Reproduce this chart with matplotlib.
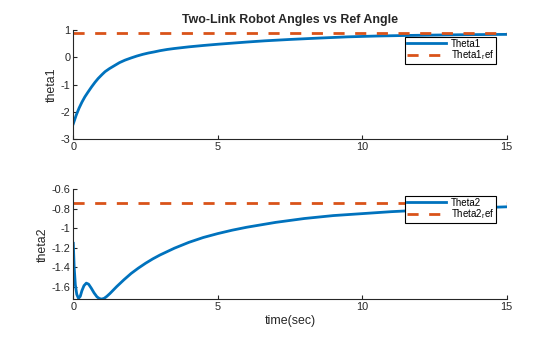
import numpy as np
import matplotlib
matplotlib.use("Agg")
import matplotlib.pyplot as plt

plt.rcParams['font.family'] = ['Liberation Sans', 'DejaVu Sans']
plt.rcParams['axes.unicode_minus'] = False

# joint 1 response (sec, rad)
t1 = [0, 0.1, 0.2, 0.3, 0.4, 0.5, 0.63, 0.75, 0.86, 1.0, 1.1, 1.25, 1.44,
      1.6, 1.79, 2.0, 2.2, 2.4, 2.6, 2.8, 3.0, 3.25, 3.5, 3.75, 4.0, 4.5,
      5.0, 5.5, 6.0, 6.63, 7.5, 8.5, 9.5, 10.5, 11.5, 12.5, 13.5, 15]
theta1 = [-2.43, -2.12, -1.86, -1.64, -1.45, -1.29, -1.09, -0.92, -0.78,
          -0.63, -0.53, -0.42, -0.30, -0.20, -0.11, -0.03, 0.04, 0.10, 0.15,
          0.19, 0.235, 0.28, 0.315, 0.345, 0.375, 0.425, 0.47, 0.51, 0.55,
          0.595, 0.645, 0.695, 0.74, 0.77, 0.79, 0.805, 0.818, 0.83]
theta1_ref = 0.87

# joint 2 response (sec, rad)
t2 = [0, 0.03, 0.07, 0.12, 0.18, 0.24, 0.30, 0.37, 0.45, 0.53, 0.62, 0.72,
      0.82, 0.90, 0.98, 1.07, 1.16, 1.27, 1.5, 1.75, 2.0, 2.25, 2.5, 2.75,
      3.0, 3.5, 4.0, 4.5, 5.0, 5.5, 6.0, 7.0, 8.0, 9.0, 10.0, 11.0, 12.0,
      13.0, 14.0, 15.0]
theta2 = [-1.155, -1.40, -1.58, -1.68, -1.72, -1.70, -1.64, -1.59, -1.564,
          -1.575, -1.615, -1.665, -1.705, -1.722, -1.728, -1.72, -1.70, -1.67,
          -1.60, -1.53, -1.465, -1.41, -1.36, -1.315, -1.275, -1.205, -1.145,
          -1.095, -1.055, -1.02, -0.99, -0.94, -0.90, -0.87, -0.85, -0.83,
          -0.815, -0.80, -0.79, -0.78]
theta2_ref = -0.74

blue = '#0072BD'
orange = '#D95319'
axcol = '#262626'

fig = plt.figure(figsize=(5.6, 3.37), dpi=100)
ax1 = fig.add_axes([0.1309, 0.5866, 0.7739, 0.3252])
ax2 = fig.add_axes([0.1309, 0.1119, 0.7739, 0.3264])


def style(ax):
    for s in ['top', 'right']:
        ax.spines[s].set_visible(False)
    for s in ['left', 'bottom']:
        ax.spines[s].set_color(axcol)
        ax.spines[s].set_linewidth(0.8)
    ax.tick_params(direction='in', length=3, width=0.8, colors=axcol,
                   labelsize=7.9, pad=2)
    ax.set_xlim(0, 15)
    ax.set_xticks([0, 5, 10, 15])


def add_legend(ax, y):
    leg = ax.legend(loc='upper right', bbox_to_anchor=(0.975, y),
                    fontsize=7, frameon=True, fancybox=False,
                    handlelength=4.0, handletextpad=0.5, borderpad=0.2,
                    labelspacing=0.0, borderaxespad=0)
    leg.get_frame().set_edgecolor('black')
    leg.get_frame().set_linewidth(0.8)
    leg.get_frame().set_alpha(1)


ax1.plot(t1, theta1, color=blue, lw=2, label='Theta1')
ax1.plot([0, 15], [theta1_ref, theta1_ref], color=orange, lw=2,
         dashes=(4, 3.8), label='Theta1$_\\mathregular{r}$ef')
style(ax1)
ax1.set_ylim(-3, 1)
ax1.set_yticks([-3, -2, -1, 0, 1])
ax1.set_ylabel('theta1', fontsize=8.9, color=axcol, labelpad=2)
ax1.set_title('Two-Link Robot Angles vs Ref Angle', fontsize=8.9,
              fontweight='bold', color=axcol, pad=5)
add_legend(ax1, 0.936)

ax2.plot(t2, theta2, color=blue, lw=2, label='Theta2')
ax2.plot([0, 15], [theta2_ref, theta2_ref], color=orange, lw=2,
         dashes=(4, 3.8), label='Theta2$_\\mathregular{r}$ef')
style(ax2)
ax2.set_ylim(-1.73, -0.6)
ax2.set_yticks([-1.6, -1.4, -1.2, -1, -0.8, -0.6])
ax2.set_yticklabels(['-1.6', '-1.4', '-1.2', '-1', '-0.8', '-0.6'])
ax2.set_ylabel('theta2', fontsize=8.9, color=axcol, labelpad=2)
ax2.set_xlabel('time(sec)', fontsize=8.9, color=axcol, labelpad=2)
add_legend(ax2, 0.942)

fig.savefig('out.png', dpi=100)
